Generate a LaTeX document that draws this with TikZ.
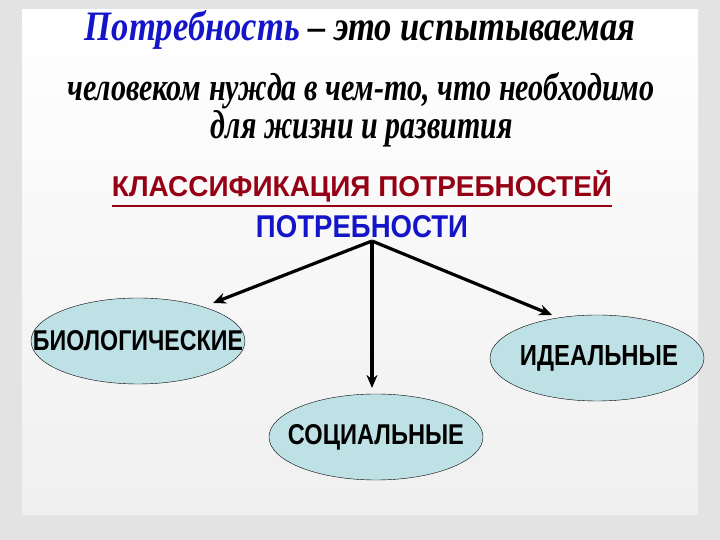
\documentclass[tikz,border=0pt]{standalone}
\usepackage{fontspec}
\setmainfont{Liberation Serif}
\setsansfont{Liberation Sans}
\usetikzlibrary{shapes.geometric,arrows.meta}
\definecolor{ttlblue}{RGB}{20,20,200}
\definecolor{hdred}{RGB}{150,0,20}
\definecolor{ellfill}{RGB}{190,225,230}
\tikzset{
  ell/.style={ellipse,draw=black,thin,fill=ellfill,minimum width=214pt,minimum height=86pt,inner sep=0pt},
  arr/.style={-{Stealth[length=13pt,width=11pt]},line width=3.2pt},
  lbl/.style={font=\sffamily\bfseries}
}
\begin{document}
\begin{tikzpicture}[x=1pt,y=1pt]
\useasboundingbox (0,0) rectangle (720,540);
\fill[gray!22] (0,0) rectangle (720,540);
\shade[top color=white,bottom color=gray!12] (22,25) rectangle (698,530);
\node (t1) at (360,510) {\resizebox{550pt}{30pt}{\bfseries\itshape\color{ttlblue}Потребность\color{black}\ – это испытываемая}};
\node (t2) at (361,449) {\resizebox{587pt}{28pt}{\bfseries\itshape человеком нужда в чем-то, что необходимо}};
\node (t3) at (362,411) {\resizebox{302pt}{28pt}{\bfseries\itshape для жизни и развития}};
\node (h) at (362,351) {\resizebox{500pt}{26pt}{\sffamily\bfseries\color{hdred}\underline{КЛАССИФИКАЦИЯ ПОТРЕБНОСТЕЙ}}};
\node (p) at (362,313) {\resizebox{212pt}{22pt}{\sffamily\bfseries\color{ttlblue}ПОТРЕБНОСТИ}};
\coordinate (o) at (372,299);
\node[ell] (b) at (138,199) {};
\node[ell] (s) at (376,103) {};
\node[ell] (i) at (597,182) {};
\node (bl) at (b.center) {\resizebox{210pt}{20pt}{\sffamily\bfseries БИОЛОГИЧЕСКИЕ}};
\node (sl) at (s.center) {\resizebox{176pt}{20pt}{\sffamily\bfseries СОЦИАЛЬНЫЕ}};
\node (il) at ([xshift=2pt]i.center) {\resizebox{158pt}{20pt}{\sffamily\bfseries ИДЕАЛЬНЫЕ}};
\coordinate (bt) at (213,237);
\coordinate (st) at (372,152);
\coordinate (it) at (552,225);
\draw[arr] (o) -- (bt);
\draw[arr] (o) -- (st);
\draw[arr] (o) -- (it);
\end{tikzpicture}
\end{document}
